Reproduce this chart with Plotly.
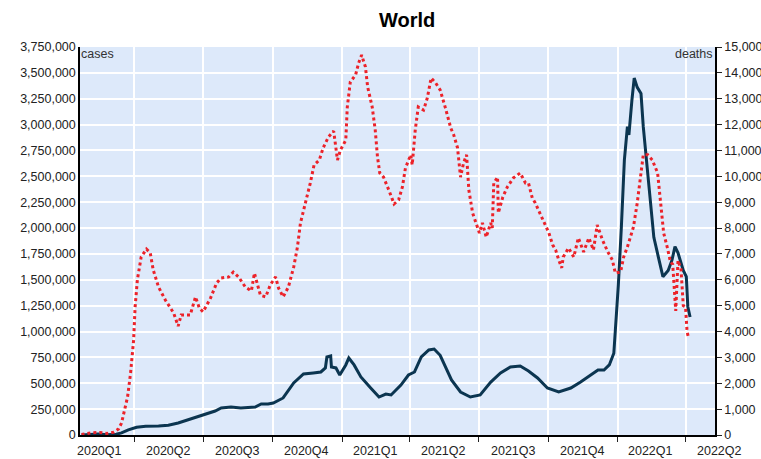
import datetime as dt
import plotly.graph_objects as go

# ---------------- data ----------------
case_dates = ["2020-01-22", "2020-02-01", "2020-02-13", "2020-02-25", "2020-03-08", "2020-03-15",
              "2020-03-24", "2020-04-04", "2020-04-16", "2020-05-03", "2020-05-16", "2020-05-29",
              "2020-06-15", "2020-07-01", "2020-07-17", "2020-07-25", "2020-08-07", "2020-08-20",
              "2020-09-08", "2020-09-16", "2020-09-25", "2020-10-02", "2020-10-15", "2020-10-29",
              "2020-11-11", "2020-11-24", "2020-12-04", "2020-12-10", "2020-12-12", "2020-12-17",
              "2020-12-18", "2020-12-24", "2020-12-29", "2021-01-06", "2021-01-10", "2021-01-17",
              "2021-01-26", "2021-02-08", "2021-02-19", "2021-02-28", "2021-03-07", "2021-03-20",
              "2021-03-30", "2021-04-07", "2021-04-16", "2021-04-26", "2021-05-03", "2021-05-11",
              "2021-05-20", "2021-05-26", "2021-06-07", "2021-06-20", "2021-07-03", "2021-07-17",
              "2021-07-30", "2021-08-12", "2021-08-25", "2021-09-05", "2021-09-17", "2021-09-30",
              "2021-10-15", "2021-10-31", "2021-11-13", "2021-11-27", "2021-12-06", "2021-12-14",
              "2021-12-21", "2021-12-27", "2021-12-29", "2022-01-02", "2022-01-06", "2022-01-10",
              "2022-01-14", "2022-01-16", "2022-01-20", "2022-01-23", "2022-01-27", "2022-02-01",
              "2022-02-04", "2022-02-09", "2022-02-13", "2022-02-18", "2022-02-24", "2022-03-02",
              "2022-03-09", "2022-03-14", "2022-03-18", "2022-03-22", "2022-03-29", "2022-04-02",
              "2022-04-04", "2022-04-07"]
cases = [1000, 2000, 9000, 3000, 8000, 20000,
         50000, 75000, 85000, 87000, 95000, 116000,
         155000, 193000, 232000, 261000, 270000, 261000,
         270000, 300000, 300000, 309000, 358000, 503000,
         590000, 600000, 609000, 648000, 754000, 764000,
         657000, 648000, 580000, 677000, 744000, 677000,
         561000, 454000, 367000, 396000, 387000, 483000,
         580000, 609000, 754000, 822000, 831000, 770000,
         628000, 532000, 416000, 367000, 387000, 512000,
         600000, 657000, 667000, 619000, 551000, 454000,
         416000, 454000, 512000, 580000, 628000, 628000,
         677000, 790000, 1010000, 1450000, 2010000, 2660000,
         2980000, 2900000, 3240000, 3450000, 3360000, 3300000,
         2980000, 2590000, 2270000, 1910000, 1720000, 1530000,
         1590000, 1690000, 1820000, 1760000, 1590000, 1530000,
         1240000, 1140000]

death_dates = ["2020-01-22", "2020-02-05", "2020-02-15", "2020-02-25", "2020-03-05", "2020-03-11",
               "2020-03-15", "2020-03-23", "2020-03-27", "2020-03-31", "2020-04-02", "2020-04-05",
               "2020-04-10", "2020-04-17", "2020-04-22", "2020-04-26", "2020-05-03", "2020-05-12",
               "2020-05-23", "2020-05-29", "2020-06-02", "2020-06-14", "2020-06-21", "2020-06-26",
               "2020-07-01", "2020-07-11", "2020-07-19", "2020-07-25", "2020-08-04", "2020-08-10",
               "2020-08-17", "2020-08-26", "2020-09-03", "2020-09-07", "2020-09-12", "2020-09-15",
               "2020-09-22", "2020-09-28", "2020-10-05", "2020-10-09", "2020-10-15", "2020-10-22",
               "2020-10-29", "2020-11-03", "2020-11-07", "2020-11-14", "2020-11-20", "2020-11-25",
               "2020-12-02", "2020-12-07", "2020-12-14", "2020-12-21", "2020-12-26", "2020-12-30",
               "2021-01-06", "2021-01-08", "2021-01-12", "2021-01-19", "2021-01-23", "2021-01-27",
               "2021-02-01", "2021-02-04", "2021-02-10", "2021-02-14", "2021-02-17", "2021-02-20",
               "2021-02-25", "2021-03-04", "2021-03-11", "2021-03-17", "2021-03-22", "2021-03-26",
               "2021-04-02", "2021-04-04", "2021-04-08", "2021-04-12", "2021-04-19", "2021-04-24",
               "2021-04-29", "2021-05-05", "2021-05-11", "2021-05-18", "2021-05-25", "2021-05-29",
               "2021-06-03", "2021-06-07", "2021-06-11", "2021-06-15", "2021-06-18", "2021-06-23",
               "2021-06-27", "2021-07-02", "2021-07-06", "2021-07-11", "2021-07-17", "2021-07-19",
               "2021-07-21", "2021-07-26", "2021-07-27", "2021-08-02", "2021-08-08", "2021-08-16",
               "2021-08-25", "2021-09-01", "2021-09-05", "2021-09-10", "2021-09-14", "2021-09-18",
               "2021-09-25", "2021-10-02", "2021-10-07", "2021-10-11", "2021-10-15", "2021-10-19",
               "2021-10-21", "2021-10-28", "2021-11-04", "2021-11-10", "2021-11-17", "2021-11-24",
               "2021-11-30", "2021-12-05", "2021-12-12", "2021-12-19", "2021-12-25", "2021-12-29",
               "2022-01-05", "2022-01-09", "2022-01-14", "2022-01-18", "2022-01-22", "2022-01-27",
               "2022-01-31", "2022-02-04", "2022-02-10", "2022-02-16", "2022-02-23", "2022-02-27",
               "2022-03-03", "2022-03-08", "2022-03-12", "2022-03-15", "2022-03-19", "2022-03-22",
               "2022-03-26", "2022-03-29", "2022-04-01", "2022-04-03", "2022-04-05"]
deaths = [20, 90, 100, 60, 110, 230,
          460, 1470, 2400, 3670, 4950, 6000,
          6880, 7190, 7040, 6380, 5720, 5220,
          4720, 4210, 4640, 4640, 5340, 4910,
          4760, 5300, 5880, 6070, 6110, 6300,
          6110, 5720, 5570, 6260, 5720, 5400,
          5340, 5800, 6110, 5680, 5340, 5720,
          6490, 7270, 8200, 8970, 9740, 10440,
          10630, 11100, 11520, 11750, 10630, 11020,
          11400, 12680, 13650, 13920, 14380, 14690,
          14230, 13450, 12680, 11790, 10750, 10130,
          9970, 9470, 8930, 9090, 9590, 10320,
          10830, 10440, 11790, 12680, 12560, 13030,
          13800, 13610, 13340, 12640, 11870, 11600,
          11100, 9970, 10520, 10830, 9470, 8580,
          8200, 7810, 8200, 7650, 8200, 8000,
          9740, 9970, 8580, 9200, 9590, 9940,
          10130, 9740, 9740, 9160, 8970, 8700,
          8230, 7810, 7350, 7150, 6770, 6460,
          6880, 7230, 6880, 7620, 7080, 7620,
          7150, 8120, 7540, 7080, 6770, 6260,
          6300, 6880, 7270, 7650, 8040, 8970,
          9970, 10830, 10830, 10630, 10130, 8820,
          7810, 7230, 6690, 6600, 4800, 6750,
          6400, 5000, 4950, 4000, 3750]

quarter_starts = ["2020-01-01", "2020-04-01", "2020-07-01", "2020-10-01", "2021-01-01",
                  "2021-04-01", "2021-07-01", "2021-10-01", "2022-01-01", "2022-04-01"]
quarter_mids = ["2020-02-15", "2020-05-16", "2020-08-16", "2020-11-15", "2021-02-14",
                "2021-05-16", "2021-08-16", "2021-11-15", "2022-02-14", "2022-05-16"]
quarter_labels = ["2020Q1", "2020Q2", "2020Q3", "2020Q4", "2021Q1",
                  "2021Q2", "2021Q3", "2021Q4", "2022Q1", "2022Q2"]
x_range = ["2020-01-20", "2022-05-10"]

FONT = "Liberation Sans, Arial, sans-serif"
NAVY = "#0b3550"
RED = "#ec2229"


def to_paper(d):
    """Fraction of the x range for a date (lets labels sit past the range end)."""
    a, b = (dt.date.fromisoformat(s) for s in x_range)
    return (dt.date.fromisoformat(d) - a).days / (b - a).days


fig = go.Figure()
fig.add_trace(go.Scatter(x=death_dates, y=deaths, mode="lines", yaxis="y2", name="deaths",
                         line=dict(color=RED, width=3, dash="dot")))
fig.add_trace(go.Scatter(x=case_dates, y=cases, mode="lines", name="cases",
                         line=dict(color=NAVY, width=3)))

annotations = [dict(x=to_paper(d), y=0, xref="paper", yref="paper", text=t, showarrow=False,
                    xanchor="center", yanchor="top", yshift=-7,
                    font=dict(family=FONT, size=12.5, color="#222"))
               for d, t in zip(quarter_mids, quarter_labels)]
annotations.append(dict(x=0, y=1, xref="paper", yref="paper", text="cases", showarrow=False,
                        xanchor="left", yanchor="top", xshift=-1, yshift=2,
                        font=dict(family=FONT, size=12.5, color="#333")))
annotations.append(dict(x=1, y=1, xref="paper", yref="paper", text="deaths", showarrow=False,
                        xanchor="right", yanchor="top", xshift=0, yshift=2,
                        font=dict(family=FONT, size=12.5, color="#333")))

fig.update_layout(
    width=761, height=459,
    margin=dict(l=80, r=46, t=47, b=24, autoexpand=False),
    paper_bgcolor="white",
    plot_bgcolor="#dde9fa",
    showlegend=False,
    font=dict(family=FONT, size=12.5, color="#222"),
    title=dict(text="World", x=0.535, xanchor="center", y=1 - 20 / 459, yanchor="middle",
               yref="container", font=dict(family=FONT, size=20, color="black", weight="bold")),
    xaxis=dict(type="date", range=x_range,
               tickmode="array", tickvals=quarter_starts, ticktext=[""] * len(quarter_starts),
               ticks="outside", ticklen=5, tickcolor="#222", showgrid=True, gridcolor="white",
               gridwidth=1.5, showline=True, linecolor="black", linewidth=1.5, zeroline=False,
               automargin=False),
    yaxis=dict(range=[0, 3750000], tickmode="linear", tick0=0, dtick=250000, tickformat=",",
               showgrid=True, gridcolor="white", gridwidth=1.5, showline=True, linecolor="black",
               linewidth=1.5, ticks="", zeroline=False, automargin=False),
    yaxis2=dict(range=[0, 15000], tickmode="linear", tick0=0, dtick=1000, tickformat=",",
                overlaying="y", side="right", showgrid=False, showline=True, linecolor="black",
                linewidth=1.5, ticks="outside", ticklen=5, tickcolor="#222", zeroline=False,
                automargin=False),
    annotations=annotations,
)

fig.write_html("out.html", config={"displayModeBar": False},
               post_script="document.body.style.margin='0';document.body.style.padding='0';")
